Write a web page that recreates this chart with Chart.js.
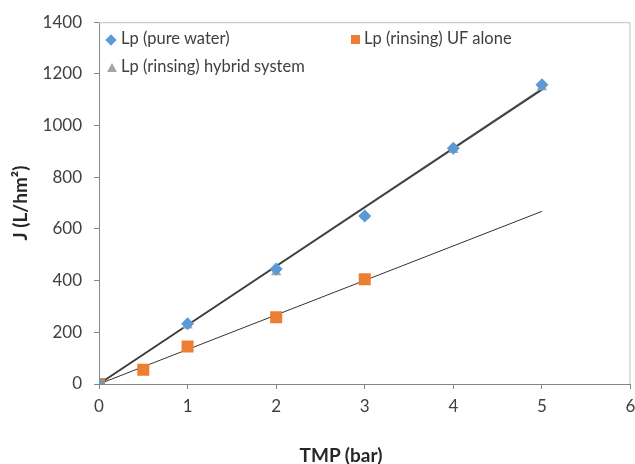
<!DOCTYPE html>
<html>
<head>
<meta charset="utf-8">
<script src="https://cdn.jsdelivr.net/npm/chart.js@4/dist/chart.umd.min.js"></script>
<style>
  body { margin: 0; background: #fff; overflow: hidden; }
  #wrap { position: relative; width: 635px; height: 464px; overflow: hidden; }
  .leg { position: absolute; font: 16.5px Lato, sans-serif; color: #404040; white-space: nowrap; }
  .leg i { display: inline-block; vertical-align: middle; margin-right: 4px; }
  #xt { position: absolute; left: 241px; width: 200px; top: 443px; text-align: center;
        font: bold 19px Lato, sans-serif; color: #262626; }
</style>
</head>
<body>
<div id="wrap">
  <!-- a bit wider than the window: chart.js keeps ~8px on the right -->
  <canvas id="c" width="639" height="464"></canvas>
  <div class="leg" style="left:107px;top:28px"><i style="width:8px;height:8px;background:#5b9bd5;transform:rotate(45deg);margin-right:6px"></i>Lp (pure water)</div>
  <div class="leg" style="left:351px;top:28px"><i style="width:9px;height:9px;background:#ed7d31"></i>Lp (rinsing) UF alone</div>
  <div class="leg" style="left:107px;top:56px"><i style="width:0;height:0;border-left:5px solid transparent;border-right:5px solid transparent;border-bottom:9px solid #a5a5a5"></i>Lp (rinsing) hybrid system</div>
  <div id="xt">TMP (bar)</div>
</div>
<script>
// values
const tmpPure = [0, 1, 2, 3, 4, 5];
const lpPure = [0, 233, 445, 650, 912, 1158];
const tmpUF = [0, 0.5, 1, 2, 3];
const lpUF = [0, 55, 145, 258, 405];
const tmpHybrid = [0, 1, 2, 3, 4, 5];
const lpHybrid = [0, 226, 432, 652, 905, 1148];

// linear trendlines (through origin), end values
const trendX = [0, 5];
const trendPure = [0, 1138];
const trendUF = [0, 668];
const trendHybrid = [0, 1142];

const xTicks = [0, 1, 2, 3, 4, 5, 6];
const yTicks = [0, 200, 400, 600, 800, 1000, 1200, 1400];

const pts = (xs, ys) => xs.map((x, i) => ({ x: x, y: ys[i] }));

// plot area border like excel
const frame = {
  id: "frame",
  afterDatasetsDraw(chart) {
    const { ctx, chartArea: a } = chart;
    ctx.save();
    ctx.strokeStyle = "#bfbfbf";
    ctx.lineWidth = 1;
    ctx.beginPath();
    ctx.moveTo(a.left, a.top + 0.5);
    ctx.lineTo(a.right - 0.5, a.top + 0.5);
    ctx.lineTo(a.right - 0.5, a.bottom);
    ctx.stroke();
    ctx.restore();
  },
};

new Chart(document.getElementById("c"), {
  type: "scatter",
  data: {
    datasets: [
      { label: "Lp (pure water)", data: pts(tmpPure, lpPure), pointStyle: "rectRot", pointRadius: 6.5,
        backgroundColor: "#5b9bd5", borderColor: "#5b9bd5", borderWidth: 0, order: 1 },
      { label: "Lp (rinsing) hybrid system", data: pts(tmpHybrid, lpHybrid), pointStyle: "triangle", pointRadius: 6,
        backgroundColor: "#a5a5a5", borderColor: "#a5a5a5", borderWidth: 0, order: 2 },
      { label: "Lp (rinsing) UF alone", data: pts(tmpUF, lpUF), pointStyle: "rect", pointRadius: 8.5,
        backgroundColor: "#ed7d31", borderColor: "#ed7d31", borderWidth: 0, order: 3 },
      { data: pts(trendX, trendPure), showLine: true, pointRadius: 0, borderColor: "#404040", borderWidth: 1.5, order: 4 },
      { data: pts(trendX, trendHybrid), showLine: true, pointRadius: 0, borderColor: "#505050", borderWidth: 1.5, order: 5 },
      { data: pts(trendX, trendUF), showLine: true, pointRadius: 0, borderColor: "#333333", borderWidth: 1, order: 6 },
    ],
  },
  options: {
    responsive: false,
    animation: false,
    layout: { padding: { top: 20, right: 1, left: 0, bottom: 0 } },
    plugins: { legend: { display: false }, tooltip: { enabled: false } },
    scales: {
      x: {
        type: "linear", min: 0, max: 6,
        afterFit: (s) => { s.height = 80; s.paddingLeft = 0; s.paddingRight = 0; },
        afterBuildTicks: (s) => { s.ticks = xTicks.map((v) => ({ value: v })); },
        ticks: { padding: 7, color: "#404040", font: { family: "Lato", size: 17 }, callback: (v) => String(v) },
        grid: { drawOnChartArea: false, drawTicks: true, tickLength: 5, color: "#868686" },
        border: { color: "#868686" },
      },
      y: {
        type: "linear", min: 0, max: 1400,
        afterFit: (s) => { s.width = 99; },
        afterBuildTicks: (s) => { s.ticks = yTicks.map((v) => ({ value: v })); },
        ticks: { padding: 12, color: "#404040", font: { family: "Lato", size: 17 }, callback: (v) => String(v) },
        grid: { drawOnChartArea: false, drawTicks: true, tickLength: 5, color: "#868686" },
        border: { color: "#868686" },
        title: { display: true, text: "J (L/hm²)", color: "#262626", padding: { top: 9, bottom: 0 },
          font: { family: "Lato", size: 19, weight: "bold" } },
      },
    },
  },
  plugins: [frame],
});
</script>
</body>
</html>
